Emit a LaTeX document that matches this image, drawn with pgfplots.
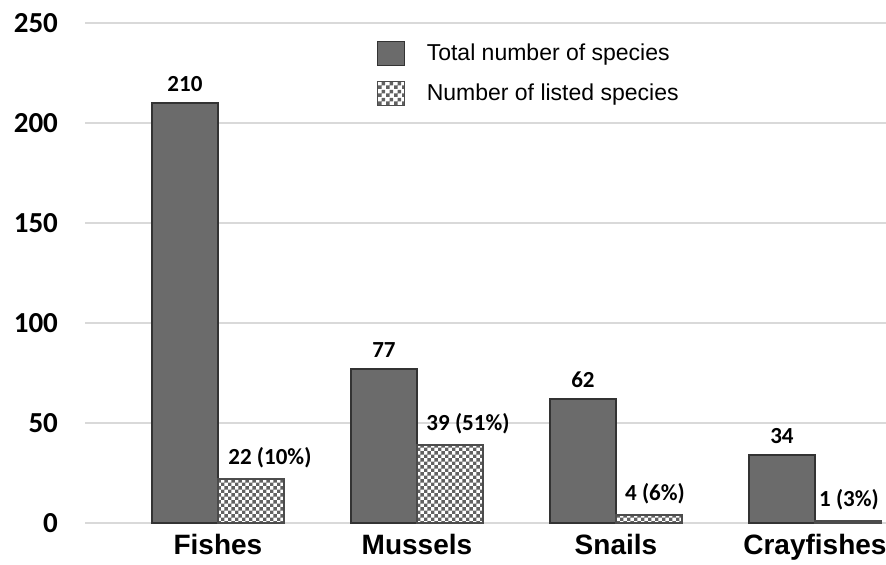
\documentclass[border=0pt]{standalone}
\usepackage{pgfplots}
\pgfplotsset{compat=1.18}
\usepackage{fontspec}
\setmainfont{Liberation Sans}
\newfontfamily\calibri{Carlito}
\usetikzlibrary{patterns.meta,calc}
\definecolor{bardark}{HTML}{6B6B6B}
\definecolor{gridc}{HTML}{D9D9D9}
\pgfdeclarepattern{
  name=mychecker, type=uncolored,
  bottom left={\pgfpointorigin}, top right={\pgfqpoint{3.7pt}{3.7pt}},
  tile size={\pgfqpoint{3.7pt}{3.7pt}},
  code={
    \pgfpathrectangle{\pgfpointorigin}{\pgfqpoint{1.85pt}{1.85pt}}
    \pgfpathrectangle{\pgfqpoint{1.85pt}{1.85pt}}{\pgfqpoint{1.85pt}{1.85pt}}
    \pgfusepath{fill}
  }
}
\begin{document}
\begin{tikzpicture}
\begin{axis}[
  scale only axis,
  width=400.5pt, height=250pt,
  ybar=0pt, bar width=33pt,
  xmin=-0.668, xmax=3.357,
  ymin=0, ymax=250,
  ytick={0,50,100,150,200,250},
  xtick={0,1,2,3},
  xticklabels={Fishes,Mussels,Snails,Crayfishes},
  axis line style={draw=none},
  major tick length=0pt,
  ymajorgrids, grid style={gridc, line width=0.8pt},
  /pgf/number format/assume math mode=true,
  yticklabel style={font=\calibri\bfseries\fontsize{14.5}{14.5}\selectfont, xshift=-10pt},
  xticklabel style={font=\bfseries\fontsize{14}{14}\selectfont, yshift=-2pt},
  point meta=explicit symbolic,
  nodes near coords,
  every node near coord/.append style={font=\calibri\bfseries\fontsize{11.5}{11.5}\selectfont, yshift=2pt},
  legend style={at={(0.356,0.975)}, anchor=north west, draw=none, fill=none,
    font=\fontsize{11.5}{11.5}\selectfont, row sep=6pt,
    nodes={inner xsep=11pt}},
  legend cell align=left,
  legend image code/.code={\draw[#1] (0pt,-6pt) rectangle (13.5pt,6pt);},
]
\addplot[fill=bardark, draw=black!80, line width=0.6pt] coordinates {
  (0,210) [210]
  (1,77) [77]
  (2,62) [62]
  (3,34) [34]
};
\addlegendentry{Total number of species}
\addplot[fill=white, draw=black!70, line width=0.6pt,
  postaction={pattern=mychecker, pattern color=black!62},
  visualization depends on={\thisrow{dx} \as \dx},
  every node near coord/.append style={xshift=\dx pt}]
  table[x=x, y=y, meta=label] {
x y label dx
0 22 {22 (10\%)} 9.5
1 39 {39 (51\%)} 9
2 4 {4 (6\%)} 3
3 1 {1 (3\%)} 0.5
};
\addlegendentry{Number of listed species}
\end{axis}
\pgfresetboundingbox
\path ($(current axis.south west)+(-42.5pt,-20.5pt)$) rectangle ($(current axis.north east)+(0pt,11.5pt)$);
\end{tikzpicture}
\end{document}
